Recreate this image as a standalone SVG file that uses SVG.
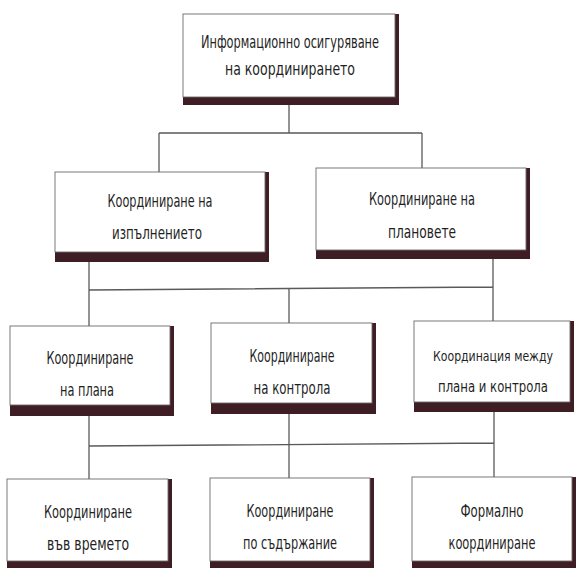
<svg xmlns="http://www.w3.org/2000/svg" width="577" height="568" viewBox="0 0 577 568">
<style>
.sh{fill:#3f1d24}
.bx{fill:#ffffff;stroke:#6a6a6a;stroke-width:0.9}
.t{font-family:"DejaVu Sans Condensed","Liberation Sans","DejaVu Sans",sans-serif;font-size:18px;fill:#1f1f1f;text-anchor:middle}
.s{font-size:15.5px}
.xs{font-size:13.5px}
.c{stroke:#5a5a5a;stroke-width:1.3;fill:none}
</style>
<rect width="577" height="568" fill="#ffffff"/>
<g id="connectors">
<path class="c" d="M289,105 V133 M159,133 H422 M159,133 V172 M422,133 V168"/>
<path class="c" d="M89,262 V326 M493,259 V321 M89,290 L493,287 M289,289 V323"/>
<path class="c" d="M89,416 V479 M289,414 V478 M494,412 V477 M89,446 L494,443"/>
</g>
<g id="n0">
<rect class="sh" x="183" y="14" width="216" height="91"/>
<rect class="bx" x="183" y="14" width="212" height="83"/>
<text class="t" x="290" y="48" textLength="178" lengthAdjust="spacingAndGlyphs">Информационно осигуряване</text>
<text class="t" x="290" y="75" textLength="130" lengthAdjust="spacingAndGlyphs">на координирането</text>
</g>
<g id="n1">
<rect class="sh" x="55" y="172" width="214" height="90"/>
<rect class="bx" x="55" y="172" width="210" height="80"/>
<text class="t" x="160" y="207" textLength="105" lengthAdjust="spacingAndGlyphs">Координиране на</text>
<text class="t" x="157" y="239" textLength="90" lengthAdjust="spacingAndGlyphs">изпълнението</text>
</g>
<g id="n2">
<rect class="sh" x="316" y="168" width="214" height="91"/>
<rect class="bx" x="316" y="168" width="210" height="82"/>
<text class="t" x="422" y="205" textLength="106" lengthAdjust="spacingAndGlyphs">Координиране на</text>
<text class="t" x="422" y="238" textLength="68" lengthAdjust="spacingAndGlyphs">плановете</text>
</g>
<g id="n3">
<rect class="sh" x="10" y="326" width="164" height="90"/>
<rect class="bx" x="10" y="326" width="160" height="79"/>
<text class="t" x="90" y="364" textLength="87" lengthAdjust="spacingAndGlyphs">Координиране</text>
<text class="t" x="87" y="396" textLength="54" lengthAdjust="spacingAndGlyphs">на плана</text>
</g>
<g id="n4">
<rect class="sh" x="211" y="323" width="165" height="91"/>
<rect class="bx" x="211" y="323" width="161" height="80"/>
<text class="t" x="292" y="362" textLength="85" lengthAdjust="spacingAndGlyphs">Координиране</text>
<text class="t" x="292" y="394" textLength="77" lengthAdjust="spacingAndGlyphs">на контрола</text>
</g>
<g id="n5">
<rect class="sh" x="414" y="321" width="160" height="91"/>
<rect class="bx" x="414" y="321" width="156" height="81"/>
<text class="t xs" x="493" y="361" textLength="120" lengthAdjust="spacingAndGlyphs">Координация между</text>
<text class="t s" x="493" y="392" textLength="110" lengthAdjust="spacingAndGlyphs">плана и контрола</text>
</g>
<g id="n6">
<rect class="sh" x="7" y="479" width="165" height="95"/>
<rect class="bx" x="7" y="479" width="161" height="82"/>
<text class="t" x="88" y="518" textLength="88" lengthAdjust="spacingAndGlyphs">Координиране</text>
<text class="t" x="88" y="550" textLength="82" lengthAdjust="spacingAndGlyphs">във времето</text>
</g>
<g id="n7">
<rect class="sh" x="210" y="478" width="164" height="96"/>
<rect class="bx" x="210" y="478" width="160" height="83"/>
<text class="t" x="290" y="517" textLength="87" lengthAdjust="spacingAndGlyphs">Координиране</text>
<text class="t" x="290" y="549" textLength="94" lengthAdjust="spacingAndGlyphs">по съдържание</text>
</g>
<g id="n8">
<rect class="sh" x="412" y="477" width="164" height="97"/>
<rect class="bx" x="412" y="477" width="160" height="84"/>
<text class="t" x="492" y="517" textLength="63" lengthAdjust="spacingAndGlyphs">Формално</text>
<text class="t" x="492" y="549" textLength="87" lengthAdjust="spacingAndGlyphs">координиране</text>
</g>
</svg>
